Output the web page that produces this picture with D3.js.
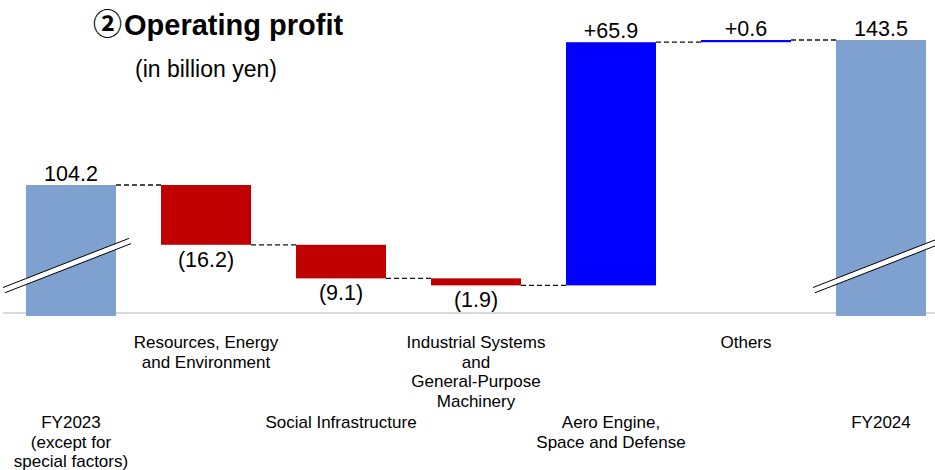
<!DOCTYPE html>
<html>
<head>
<meta charset="utf-8">
<script src="https://cdn.jsdelivr.net/npm/d3@7"></script>
<style>
  html, body { margin: 0; padding: 0; background: #fff; }
  svg { display: block; font-family: "Liberation Sans", Arial, sans-serif; }
</style>
</head>
<body>
<svg id="chart" width="935" height="470"></svg>
<script>
// Operating profit bridge, FY2023 -> FY2024 (billion yen)
const categories = [
  ["FY2023", "(except for", "special factors)"],
  ["Resources, Energy", "and Environment"],
  ["Social Infrastructure"],
  ["Industrial Systems", "and", "General-Purpose", "Machinery"],
  ["Aero Engine,", "Space and Defense"],
  ["Others"],
  ["FY2024"]
];
const kinds = ["total", "delta", "delta", "delta", "delta", "delta", "total"];
const values = [104.2, -16.2, -9.1, -1.9, 65.9, 0.6, 143.5];
const valueLabels = ["104.2", "(16.2)", "(9.1)", "(1.9)", "+65.9", "+0.6", "143.5"];
const axisFloor = 68.7;   // broken axis: bars start here

const colors = { total: "#7EA1D0", down: "#C00000", up: "#0000FF" };

const svg = d3.select("#chart");

const x = d3.scaleBand()
  .domain(d3.range(categories.length))
  .range([3.5, 948.5])
  .paddingInner(1 / 3)
  .paddingOuter(1 / 6);

const y = d3.scaleLinear().domain([axisFloor, 143.5]).range([316, 40]);

// running totals for the waterfall
let running = 0;
const steps = values.map((v, i) => {
  let start, end;
  if (kinds[i] === "total") { start = axisFloor; end = v; running = v; }
  else { start = running; end = running + v; running = end; }
  return { i, v, start, end, kind: kinds[i], level: kinds[i] === "total" ? v : end };
});

// baseline
svg.append("line")
  .attr("x1", 3).attr("x2", 935)
  .attr("y1", 313).attr("y2", 313)
  .attr("stroke", "#D9D9D9").attr("stroke-width", 2);

// connectors
for (let k = 0; k < steps.length - 1; k++) {
  const lv = steps[k].level;
  svg.append("line")
    .attr("x1", x(k) + x.bandwidth()).attr("x2", x(k + 1))
    .attr("y1", y(lv)).attr("y2", y(lv))
    .attr("stroke", "#111").attr("stroke-width", 1.3)
    .attr("stroke-dasharray", "5,3");
}

// bars
svg.selectAll("rect.bar").data(steps).join("rect")
  .attr("class", "bar")
  .attr("x", d => x(d.i))
  .attr("width", x.bandwidth())
  .attr("y", d => y(Math.max(d.start, d.end)))
  .attr("height", d => Math.max(1, Math.abs(y(d.start) - y(d.end))))
  .attr("fill", d => d.kind === "total" ? colors.total : (d.v < 0 ? colors.down : colors.up));

// axis-break marks on the total bars
steps.filter(d => d.kind === "total").forEach(d => {
  const cx = x(d.i) + x.bandwidth() / 2;
  const cy = 261;
  const s = 0.39, th = 6;
  const x0 = cx - 68, x1 = cx + 58;
  const topY = xx => cy - s * (xx - cx);
  const g = svg.append("g");
  g.append("polygon")
    .attr("points", [[x0, topY(x0)], [x1, topY(x1)], [x1 + 2, topY(x1 + 2) + th], [x0 + 2, topY(x0 + 2) + th]].join(" "))
    .attr("fill", "#fff");
  g.append("line").attr("x1", x0).attr("y1", topY(x0)).attr("x2", x1).attr("y2", topY(x1))
    .attr("stroke", "#000").attr("stroke-width", 1);
  g.append("line").attr("x1", x0 + 2).attr("y1", topY(x0 + 2) + th).attr("x2", x1 + 2).attr("y2", topY(x1 + 2) + th)
    .attr("stroke", "#000").attr("stroke-width", 1);
});

// value labels
svg.selectAll("text.val").data(steps).join("text")
  .attr("class", "val")
  .attr("x", d => x(d.i) + x.bandwidth() / 2)
  .attr("y", d => d.v < 0 ? y(d.end) + 22 : y(Math.max(d.start, d.end)) - 4)
  .attr("text-anchor", "middle")
  .attr("font-size", 21.5)
  .attr("fill", "#000")
  .text((d, i) => valueLabels[i]);

// category labels, staggered in two rows
categories.forEach((lines, i) => {
  const t = svg.append("text")
    .attr("text-anchor", "middle")
    .attr("font-size", 17)
    .attr("fill", "#000");
  const baseY = i % 2 === 1 ? 348 : 428;
  lines.forEach((ln, j) => {
    t.append("tspan")
      .attr("x", x(i) + x.bandwidth() / 2)
      .attr("y", baseY + j * 19.5)
      .text(ln);
  });
});

// title
const title = svg.append("text")
  .attr("x", 93).attr("y", 35)
  .attr("font-size", 29).attr("font-weight", "bold").attr("fill", "#000");
title.append("tspan").attr("font-family", "'Noto Sans CJK JP', 'DejaVu Sans', sans-serif").text("②");
title.append("tspan").attr("dx", 2).text("Operating profit");

svg.append("text")
  .attr("x", 135).attr("y", 77)
  .attr("font-size", 23).attr("fill", "#000")
  .text("(in billion yen)");
</script>
</body>
</html>
